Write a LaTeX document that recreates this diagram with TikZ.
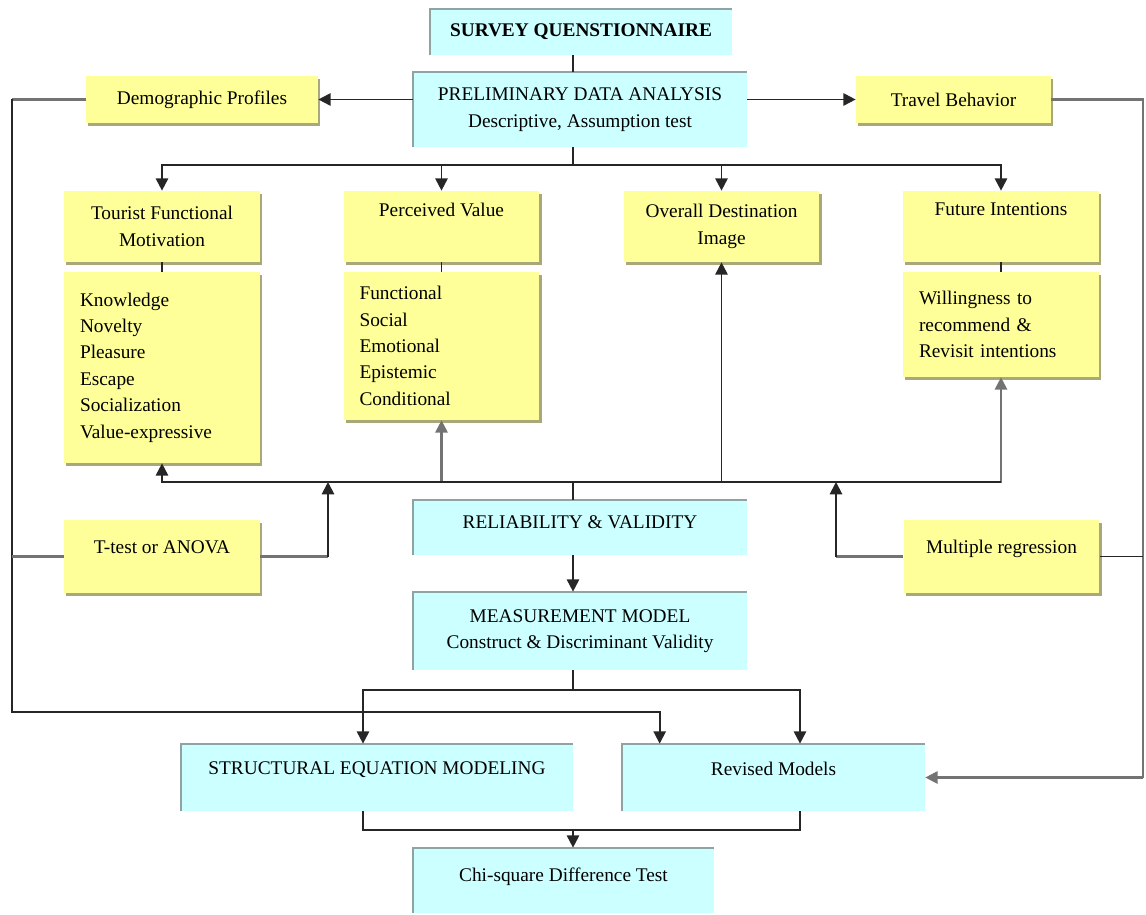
\documentclass[tikz,border=0pt]{standalone}
\usepackage{fontspec}
\setmainfont{Liberation Serif}
\usetikzlibrary{arrows.meta,shadows}
\definecolor{ybg}{HTML}{FFFF99}
\definecolor{cbg}{HTML}{CCFFFF}
\definecolor{cedge}{HTML}{8FA3A3}
\definecolor{yshade}{HTML}{A8A878}

\begin{document}
\begin{tikzpicture}[x=0.02cm,y=-0.02cm,
  font=\fontsize{11}{15}\selectfont,
  ybox/.style={fill=ybg, align=center, inner sep=2pt,
    drop shadow={shadow xshift=1.4pt,shadow yshift=-1.6pt,fill=yshade,opacity=1}},
  headbox/.style={ybox, minimum width=3.92cm, minimum height=1.42cm},
  lbox/.style={ybox, align=left, text width=3.28cm, inner xsep=0.32cm, minimum width=3.92cm},
  cbox/.style={fill=cbg, align=center, inner sep=2pt},
  link/.style={line width=1.1pt, black!85},
  glink/.style={line width=1.2pt, black!55},
  tip/.style={-{Triangle[length=7pt,width=7pt]}}
]
\useasboundingbox (0,0) rectangle (1146,915);

% верх
\node[cbox, minimum width=6.04cm, minimum height=0.92cm] (sq) at (581,32) {\textbf{SURVEY QUENSTIONNAIRE}};
\node[cbox, minimum width=6.68cm, minimum height=1.5cm] (pda) at (580,109.5) {PRELIMINARY DATA ANALYSIS\\Descriptive, Assumption test};
\node[ybox, minimum width=4.64cm, minimum height=0.94cm] (demo) at (202,99.5) {Demographic Profiles};
\node[ybox, minimum width=3.9cm, minimum height=0.94cm] (travel) at (953.5,99.5) {Travel Behavior};

% конструкты
\node[headbox] (tfm) at (162,226.5) {Tourist Functional\\Motivation};
\node[headbox] (pv) at (441.5,226.5) {Perceived Value\\\strut};
\node[headbox] (odi) at (721.5,226.5) {Overall Destination\\Image};
\node[headbox] (fi) at (1001,226.5) {Future Intentions\\\strut};

\node[lbox, minimum height=3.82cm] (tfm-l) at (162,367.5) {Knowledge\\Novelty\\Pleasure\\Escape\\Socialization\\Value-expressive};
\node[lbox, minimum height=2.96cm] (pv-l) at (441.5,346) {Functional\\Social\\Emotional\\Epistemic\\Conditional};
\node[lbox, minimum height=2.1cm] (fi-l) at (1001,324.5) {Willingness to\\recommend \&\\Revisit intentions};

% анализ
\node[cbox, minimum width=6.68cm, minimum height=1.1cm, text depth=0.22cm] (rel) at (580,527.5) {RELIABILITY \& VALIDITY};
\node[ybox, minimum width=3.92cm, minimum height=1.46cm, text depth=0.38cm] (ttest) at (162,556.5) {T-test or ANOVA};
\node[ybox, minimum width=3.92cm, minimum height=1.46cm, text depth=0.38cm] (mreg) at (1001.5,556.5) {Multiple regression};
\node[cbox, minimum width=6.68cm, minimum height=1.56cm] (mm) at (580,631) {MEASUREMENT MODEL\\Construct \& Discriminant Validity};
\node[cbox, minimum width=7.84cm, minimum height=1.34cm, text depth=0.36cm] (sem) at (377,777.5) {STRUCTURAL EQUATION MODELING};
\node[cbox, minimum width=6.06cm, minimum height=1.34cm, text depth=0.36cm] (rev) at (773.5,777.5) {Revised Models};
\node[cbox, minimum width=6.02cm, minimum height=1.3cm, text depth=0.22cm] (chi) at (563.5,880.5) {Chi-square Difference Test};

% кромка голубых блоков
\foreach \n in {sq,pda,rel,mm,sem,rev,chi}
  \draw[cedge, line width=1.2pt] (\n.south west) |- (\n.north east);

\coordinate (bus1) at (573,165);
\coordinate (bus2) at (573,482);
\coordinate (bus3) at (573,690);
\coordinate (bus4) at (573,830);
\coordinate (tjoin) at (328,482);
\coordinate (mjoin) at (836,482);
\coordinate (lft) at (12,712);
\coordinate (rgt) at (1143,777.5);

% связи сверху
\draw[link] (sq.south -| bus1) -- (pda.north -| bus1);
\draw[link,tip] (pda.west |- demo) -- (demo.east);
\draw[link,tip] (pda.east |- travel) -- (travel.west);
\draw[link] (pda.south -| bus1) -- (bus1);
\foreach \n in {tfm,pv,odi,fi}
  \draw[link,tip] (bus1) -| (\n.north);
\foreach \n in {tfm,pv,fi}
  \draw[link] (\n.south) -- (\n-l.north);

% нижняя шина
\foreach \n/\c in {tfm-l/link,pv-l/glink,odi/link,fi-l/glink}
  \draw[\c,tip] (bus2) -| (\n.south);
\draw[link] (tfm-l.south |- bus2) -- (fi-l.south |- bus2);
\draw[link] (rel.north -| bus2) -- (bus2);
\draw[glink] (ttest.east) -- (ttest.east -| tjoin);
\draw[link,tip] (ttest.east -| tjoin) -- (tjoin);
\draw[glink] (mreg.west) -- (mreg.west -| mjoin);
\draw[link,tip] (mreg.west -| mjoin) -- (mjoin);

% обходы слева и справа
\draw[glink] (demo.west) -- (demo.west -| lft);
\draw[link,tip] (demo.west -| lft) -- (lft) -| ([xshift=0.76cm]rev.north west);
\draw[glink] (ttest.west) -- (ttest.west -| lft);
\draw[glink] (travel.east) -- (travel.east -| rgt) -- (rgt);
\draw[link] (mreg.east) -- (mreg.east -| rgt);
\draw[glink,tip] (rgt) -- (rev.east);

% модели
\draw[link,tip] (rel.south -| bus2) -- (mm.north -| bus2);
\draw[link] (mm.south -| bus3) -- (bus3);
\draw[link,tip] (bus3) -| ([xshift=-0.28cm]sem.north);
\draw[link,tip] (bus3) -| ([xshift=0.53cm]rev.north);
\draw[link] ([xshift=-0.28cm]sem.south) |- (bus4);
\draw[link] ([xshift=0.53cm]rev.south) |- (bus4);
\draw[link,tip] (bus4) -- (chi.north -| bus4);
\end{tikzpicture}
\end{document}
